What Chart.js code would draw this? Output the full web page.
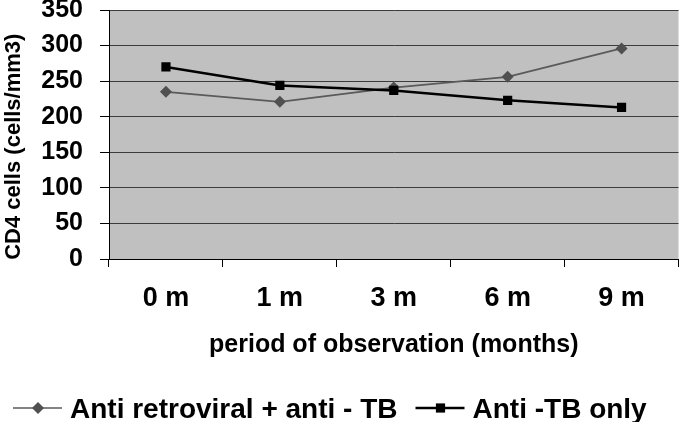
<!DOCTYPE html>
<html>
<head>
<meta charset="utf-8">
<script src="https://cdn.jsdelivr.net/npm/chart.js@4"></script>
<style>
  body { margin: 0; background: #fff; }
  canvas { display: block; }
</style>
</head>
<body>
<canvas id="cd4-chart" width="685" height="422"></canvas>
<script>
var periods = ['0 m', '1 m', '3 m', '6 m', '9 m'];
var artTbValues = [235, 221, 241, 256, 296];
var tbOnlyValues = [270, 244, 237, 223, 213];
var yTicks = [0, 50, 100, 150, 200, 250, 300, 350];
var seriesNames = ['Anti retroviral + anti - TB', 'Anti -TB only'];

var fontFamily = '"Liberation Sans", Arial, sans-serif';

// gray plot background
var plotBackground = {
    id: 'plotBackground',
    beforeDraw(chart) {
        const area = chart.chartArea;
        const ctx = chart.ctx;
        ctx.save();
        ctx.fillStyle = '#c0c0c0';
        ctx.fillRect(area.left, area.top, area.right - area.left, area.bottom - area.top);
        ctx.restore();
    }
};

// legend with line + marker, like the old spreadsheet one
var lineLegend = {
    id: 'lineLegend',
    afterDraw(chart) {
        const ctx = chart.ctx;
        const y = 408;
        let x = 13;
        ctx.save();
        ctx.font = 'bold 28px ' + fontFamily;
        ctx.textBaseline = 'alphabetic';
        chart.data.datasets.forEach(dataset => {
            ctx.strokeStyle = dataset.borderColor;
            ctx.lineWidth = dataset.borderWidth;
            ctx.beginPath();
            ctx.moveTo(x, y);
            ctx.lineTo(x + 49, y);
            ctx.stroke();
            ctx.fillStyle = dataset.pointBackgroundColor;
            Chart.helpers.drawPoint(ctx, {
                pointStyle: dataset.pointStyle,
                radius: dataset.pointRadius,
                borderWidth: 0
            }, x + 25, y);
            ctx.fillStyle = '#000';
            ctx.fillText(dataset.label, x + 57, y + 10);
            x += 57 + ctx.measureText(dataset.label).width + 18;
        });
        ctx.restore();
    }
};

new Chart(document.getElementById('cd4-chart'), {
    type: 'line',
    data: {
        labels: periods,
        datasets: [
            {
                label: seriesNames[0],
                data: artTbValues,
                borderColor: '#5a5a5a',
                backgroundColor: '#505050',
                pointBackgroundColor: '#505050',
                pointBorderWidth: 0,
                borderWidth: 1.7,
                pointStyle: 'rectRot',
                pointRadius: 6,
                tension: 0,
                order: 2
            },
            {
                label: seriesNames[1],
                data: tbOnlyValues,
                borderColor: '#000000',
                backgroundColor: '#000000',
                pointBackgroundColor: '#000000',
                pointBorderWidth: 0,
                borderWidth: 2.5,
                pointStyle: 'rect',
                pointRadius: 6.5,
                tension: 0,
                order: 1
            }
        ]
    },
    options: {
        responsive: false,
        animation: false,
        layout: {
            padding: { left: 0, right: 1, top: 0, bottom: 55 }
        },
        plugins: {
            legend: { display: false },
            tooltip: { enabled: false }
        },
        scales: {
            x: {
                offset: true,
                grid: {
                    offset: true,
                    drawOnChartArea: false,
                    drawTicks: true,
                    tickLength: 8,
                    tickColor: '#000'
                },
                border: { color: '#000', width: 1 },
                ticks: {
                    color: '#000',
                    padding: 15,
                    font: { family: fontFamily, size: 27, weight: 'bold' }
                },
                title: {
                    display: true,
                    text: 'period of observation (months)',
                    color: '#000',
                    font: { family: fontFamily, size: 25, weight: 'bold' },
                    padding: { top: 0, bottom: 7 }
                },
                afterFit(scale) {
                    scale.height = 108;
                }
            },
            y: {
                min: 0,
                max: 350,
                afterBuildTicks(scale) {
                    scale.ticks = yTicks.map(v => ({ value: v }));
                },
                grid: {
                    color: '#3c3c3c',
                    lineWidth: 1,
                    tickLength: 9,
                    tickColor: '#000'
                },
                border: { color: '#000', width: 1 },
                ticks: {
                    color: '#000',
                    padding: 17,
                    font: { family: fontFamily, size: 25, weight: 'bold' }
                },
                title: {
                    display: true,
                    text: 'CD4 cells (cells/mm3)    ',
                    color: '#000',
                    font: { family: fontFamily, size: 22, weight: 'bold' },
                    padding: { top: 1, bottom: 0 }
                },
                afterFit(scale) {
                    scale.width = 109;
                    scale.paddingTop = 10;
                    scale.paddingBottom = 0;
                }
            }
        }
    },
    plugins: [plotBackground, lineLegend]
});
</script>
</body>
</html>
